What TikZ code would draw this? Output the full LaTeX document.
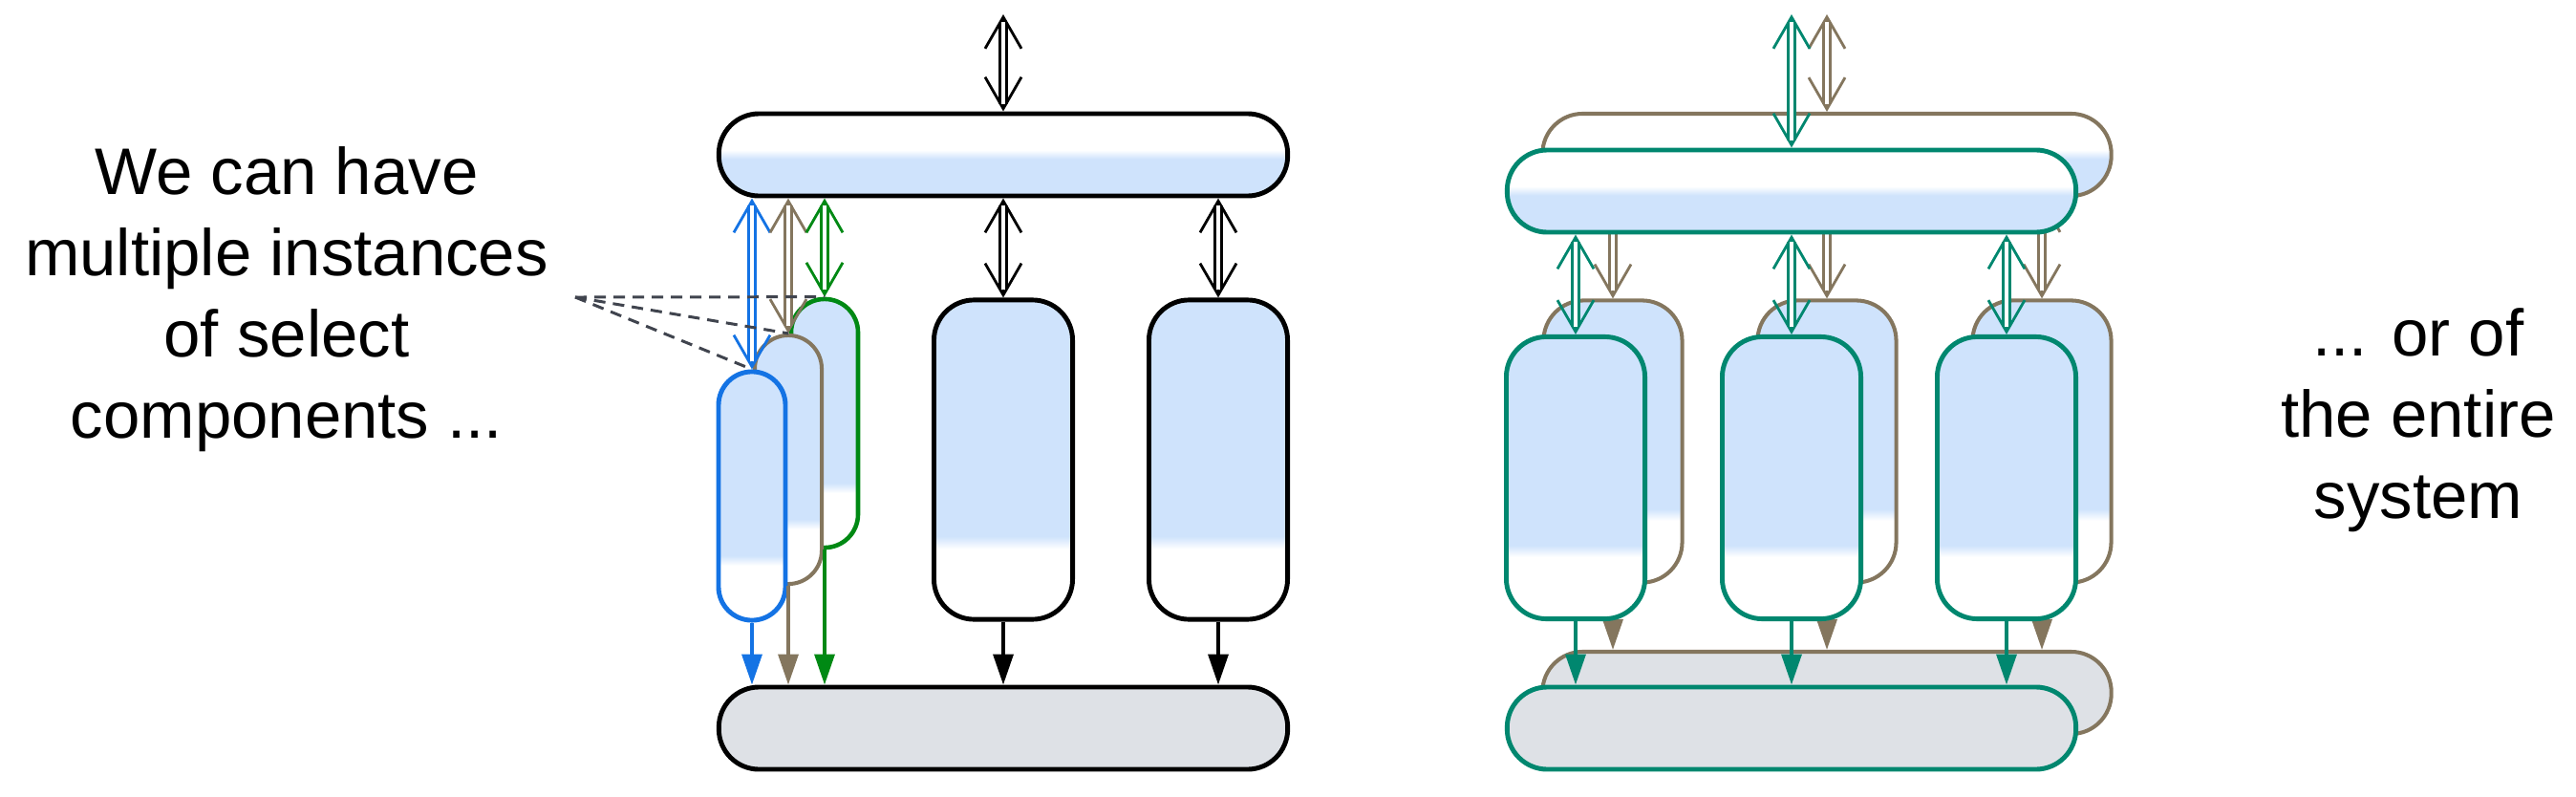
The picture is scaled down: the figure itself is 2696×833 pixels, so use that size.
\documentclass[tikz,border=0pt]{standalone}
\usepackage{fontspec}
\setmainfont{Liberation Sans}
\usepackage{tikz}
\usetikzlibrary{arrows.meta,positioning,calc}

\definecolor{paleblue}{RGB}{207,227,252}
\definecolor{barfill}{RGB}{222,225,230}
\definecolor{instblue}{RGB}{20,115,228}
\definecolor{instbrown}{RGB}{132,118,94}
\definecolor{instgreen}{RGB}{0,137,20}
\definecolor{systeal}{RGB}{0,135,111}
\definecolor{dashgray}{RGB}{64,68,78}

% white top half, blue bottom half
\pgfdeclareverticalshading{barshade}{100bp}{color(0bp)=(paleblue); color(47.5bp)=(paleblue); color(53bp)=(white); color(100bp)=(white)}
% blue body, white foot
\pgfdeclareverticalshading{unitshade}{100bp}{color(0bp)=(white); color(36bp)=(white); color(38bp)=(paleblue); color(100bp)=(paleblue)}

\begin{document}
\begin{tikzpicture}[x=0.01cm, y=-0.01cm,
  bar/.style={draw, line width=1.4pt, rounded corners=4.2mm, minimum width=59.5mm, minimum height=8.6mm, inner sep=0pt},
  topbar/.style={bar, shade, shading=barshade},
  botbar/.style={bar, fill=barfill},
  unit/.style={draw, line width=1.4pt, rounded corners=4.2mm, minimum width=14.5mm, minimum height=33.4mm, inner sep=0pt, shade, shading=unitshade},
  sysunit/.style={unit, minimum height=29.5mm},
  inst/.style={unit, rounded corners=3.5mm, minimum width=7mm, minimum height=26mm},
  ghost/.style={draw=instbrown, line width=1.15pt},
  dbl/.style={line width=0.8pt, {Straight Barb[length=3.3mm,width=3.8mm]}-{Straight Barb[length=3.3mm,width=3.8mm]}, postaction={draw, arrows=-, double, double distance=1.1pt, shorten <=0.8mm, shorten >=0.8mm}},
  down/.style={line width=1pt, -{Triangle[length=3.2mm,width=2.1mm]}},
  pointer/.style={dash pattern=on 1.2mm off 0.8mm, line width=0.85pt, dashgray},
  note/.style={align=center, inner sep=0pt, font=\fontsize{19.6}{24.2}\selectfont}]
\useasboundingbox (0,0) rectangle (2696,833);

%Left system: copies of single components
\node[topbar] (top) at (1050,162) {};
\node[unit] (ub) at (1050,481) {};
\node[unit] (uc) at (1275,481) {};
\node[inst, draw=instgreen, line width=1.3pt] (igreen) at (863,443) {};
\node[inst, ghost] (ibrown) at (825,481) {};
\node[inst, draw=instblue] (iblue) at (787,519) {};
\node[botbar] (bot) at (1050,762) {};

\coordinate (inL) at (1050,15);
\draw[dbl] (inL) -- (top);
\draw[dbl] (top.south -| ub.north) -- (ub);
\draw[dbl] (top.south -| uc.north) -- (uc);
\draw[dbl, instblue] (top.south -| iblue.north) -- (iblue.north);
\draw[dbl, instbrown] (top.south -| ibrown.north) -- (ibrown.north);
\draw[dbl, instgreen] (top.south -| igreen.north) -- (igreen.north);

\draw[down, instblue] (iblue) -- (iblue |- bot.north);
\draw[down, instbrown] (ibrown) -- (ibrown |- bot.north);
\draw[down, instgreen] (igreen) -- (igreen |- bot.north);
\draw[down] (ub) -- (ub |- bot.north);
\draw[down] (uc) -- (uc |- bot.north);

\node[note] (leftnote) at (300,313) {We can have\\multiple instances\\of select\\components ...};
\coordinate (callout) at (602,311);
\draw[pointer] (callout) -- (igreen.north);
\draw[pointer] (callout) -- (ibrown.north);
\draw[pointer] (callout) -- (iblue.north);

%Right system: second copy behind
\node[topbar, ghost] (btop) at (1912,162) {};
\node[sysunit, ghost] (bu1) at (1688,462) {};
\node[sysunit, ghost] (bu2) at (1912,462) {};
\node[sysunit, ghost] (bu3) at (2137,462) {};
\node[botbar, ghost] (bbot) at (1912,725) {};

\coordinate (inB) at (1912,15);
\draw[dbl, instbrown] (inB) -- (btop);
\draw[dbl, instbrown] (btop.south -| bu1.north) -- (bu1);
\draw[dbl, instbrown] (btop.south -| bu2.north) -- (bu2);
\draw[dbl, instbrown] (btop.south -| bu3.north) -- (bu3);
\draw[down, instbrown] (bu1) -- (bu1 |- bbot.north);
\draw[down, instbrown] (bu2) -- (bu2 |- bbot.north);
\draw[down, instbrown] (bu3) -- (bu3 |- bbot.north);

%Right system: front copy
\node[topbar, draw=systeal] (ttop) at (1875,200) {};
\node[sysunit, draw=systeal] (tu1) at (1649,500) {};
\node[sysunit, draw=systeal] (tu2) at (1875,500) {};
\node[sysunit, draw=systeal] (tu3) at (2100,500) {};
\node[botbar, draw=systeal] (tbot) at (1875,762) {};

\coordinate (inT) at (1875,15);
\draw[dbl, systeal] (inT) -- (ttop);
\draw[dbl, systeal] (ttop.south -| tu1.north) -- (tu1);
\draw[dbl, systeal] (ttop.south -| tu2.north) -- (tu2);
\draw[dbl, systeal] (ttop.south -| tu3.north) -- (tu3);
\draw[down, systeal] (tu1) -- (tu1 |- tbot.north);
\draw[down, systeal] (tu2) -- (tu2 |- tbot.north);
\draw[down, systeal] (tu3) -- (tu3 |- tbot.north);

\node[note] (rightnote) at (2531,440) {... or of\\the entire\\system};
\end{tikzpicture}
\end{document}
